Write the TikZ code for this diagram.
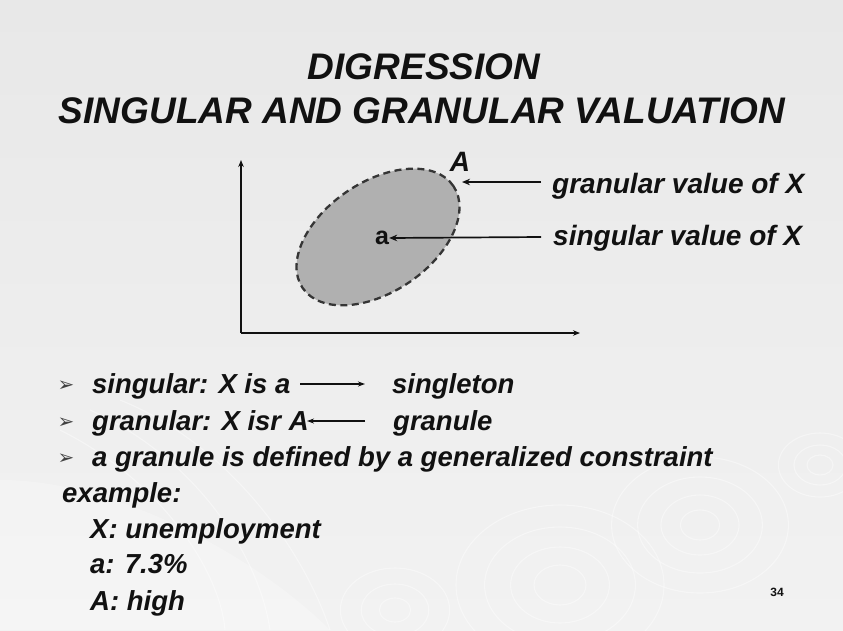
\documentclass[tikz,border=0pt]{standalone}
\usepackage{fontspec}
\setmainfont{Liberation Sans}
\newfontfamily\symfont{DejaVu Sans}
\usetikzlibrary{shapes.geometric,arrows.meta}
\definecolor{bgtop}{HTML}{E8E8E8}
\definecolor{bgbot}{HTML}{F2F2F2}
\definecolor{ellfill}{HTML}{B0B0B0}
\definecolor{ink}{HTML}{111111}
\tikzset{
  titletext/.style={font=\fontsize{37}{42}\selectfont\bfseries\itshape, text=ink, inner sep=0pt, anchor=base},
  bodytext/.style={font=\fontsize{27.5}{32}\selectfont\bfseries\itshape, text=ink, anchor=base west, inner sep=0pt},
  bul/.style={font=\symfont\fontsize{20}{22}\selectfont, text=ink!80, inner sep=0pt},
  axis/.style={line width=1.7pt, draw=ink, -{Stealth[length=7pt,width=5.5pt]}},
  pointer/.style={line width=1.7pt, draw=ink, -{Stealth[length=8pt,width=6.5pt]}},
  deco/.style={draw=white, line width=1.1pt, opacity=0.4},
}
\begin{document}
\begin{tikzpicture}[x=1pt,y=-1pt]
\useasboundingbox (0,0) rectangle (843,630);
\shade[top color=bgtop, bottom color=bgbot] (0,0) rectangle (843,630);
% decorative background
\fill[white, opacity=0.25] (0,630) -- (0,480) .. controls (120,480) and (260,560) .. (330,630) -- cycle;
\draw[deco] (120,400) .. controls (220,440) and (300,540) .. (330,630);
\draw[deco] (90,410) .. controls (200,460) and (260,560) .. (270,630);
\draw[deco] (60,430) .. controls (160,480) and (220,570) .. (225,630);
\foreach \r in {20,38,58,80} \draw[deco] (560,585) ellipse ({\r*1.3} and \r);
\foreach \r in {15,30,48,68} \draw[deco] (700,525) ellipse ({\r*1.3} and \r);
\foreach \r in {12,26,42} \draw[deco] (395,610) ellipse ({\r*1.3} and \r);
\foreach \r in {10,20,32} \draw[deco] (820,465) ellipse ({\r*1.3} and \r);

% title
\node[titletext] (t1) at (424,79) {DIGRESSION};
\node[titletext] (t2) at (422,123) {SINGULAR AND GRANULAR VALUATION};

% axes
\coordinate (o) at (241,333);
\coordinate (ytop) at (241,160);
\coordinate (xend) at (580,333);
\draw[axis] (o) -- (ytop);
\draw[axis] (o) -- (xend);

% ellipse
\node[ellipse, draw=ink!85, dash pattern=on 7pt off 4.5pt, line width=2.3pt, fill=ellfill,
      minimum width=182pt, minimum height=110pt, rotate=34, inner sep=0pt] (A) at (378,237) {};
\node[font=\fontsize{28}{32}\selectfont\bfseries\itshape, text=ink, inner sep=0pt] (Alab) at (460,162) {A};
\node[font=\fontsize{25}{28}\selectfont\bfseries, text=ink, inner sep=0pt] (a) at (382,238) {a};

% labels
\node[bodytext, font=\fontsize{28}{32}\selectfont\bfseries\itshape] (gv) at (552,193) {granular value of X};
\node[bodytext, font=\fontsize{28}{32}\selectfont\bfseries\itshape] (sv) at (553,245) {singular value of X};
\coordinate (gvs) at (541,182);
\coordinate (Aedge) at (462,182);
\coordinate (svs) at (541,237);
\draw[pointer] (gvs) -- (Aedge);
\draw[pointer] (svs) -- (a.east);

% bullets
\node[bul] (b1) at (66,386) {➢};
\node[bodytext] (l1) at (92,393) {singular: X is a};
\node[bodytext] (r1) at (392,393) {singleton};
\coordinate (a1s) at (300,384);
\coordinate (a1e) at (365,384);
\draw[line width=1.5pt, draw=ink, -{Stealth[length=7pt,width=5pt]}] (a1s) -- (a1e);

\node[bul] (b2) at (66,423) {➢};
\node[bodytext] (l2) at (92,430) {granular: X isr A};
\node[bodytext] (r2) at (393,430) {granule};
\coordinate (a2s) at (365,421);
\coordinate (a2e) at (307,421);
\draw[line width=1.5pt, draw=ink, -{Stealth[length=7pt,width=5pt]}] (a2s) -- (a2e);

\node[bul] (b3) at (66,459) {➢};
\node[bodytext] (l3) at (92,466) {a granule is defined by a generalized constraint};

\node[bodytext] (ex) at (62,502) {example:};
\node[bodytext] (e1) at (90,538) {X: unemployment};
\node[bodytext] (e2) at (90,573) {a: 7.3\%};
\node[bodytext] (e3) at (90,610) {A: high};

\node[font=\fontsize{12}{14}\selectfont\bfseries, text=ink, inner sep=0pt] (pg) at (777,592) {34};
\end{tikzpicture}
\end{document}
